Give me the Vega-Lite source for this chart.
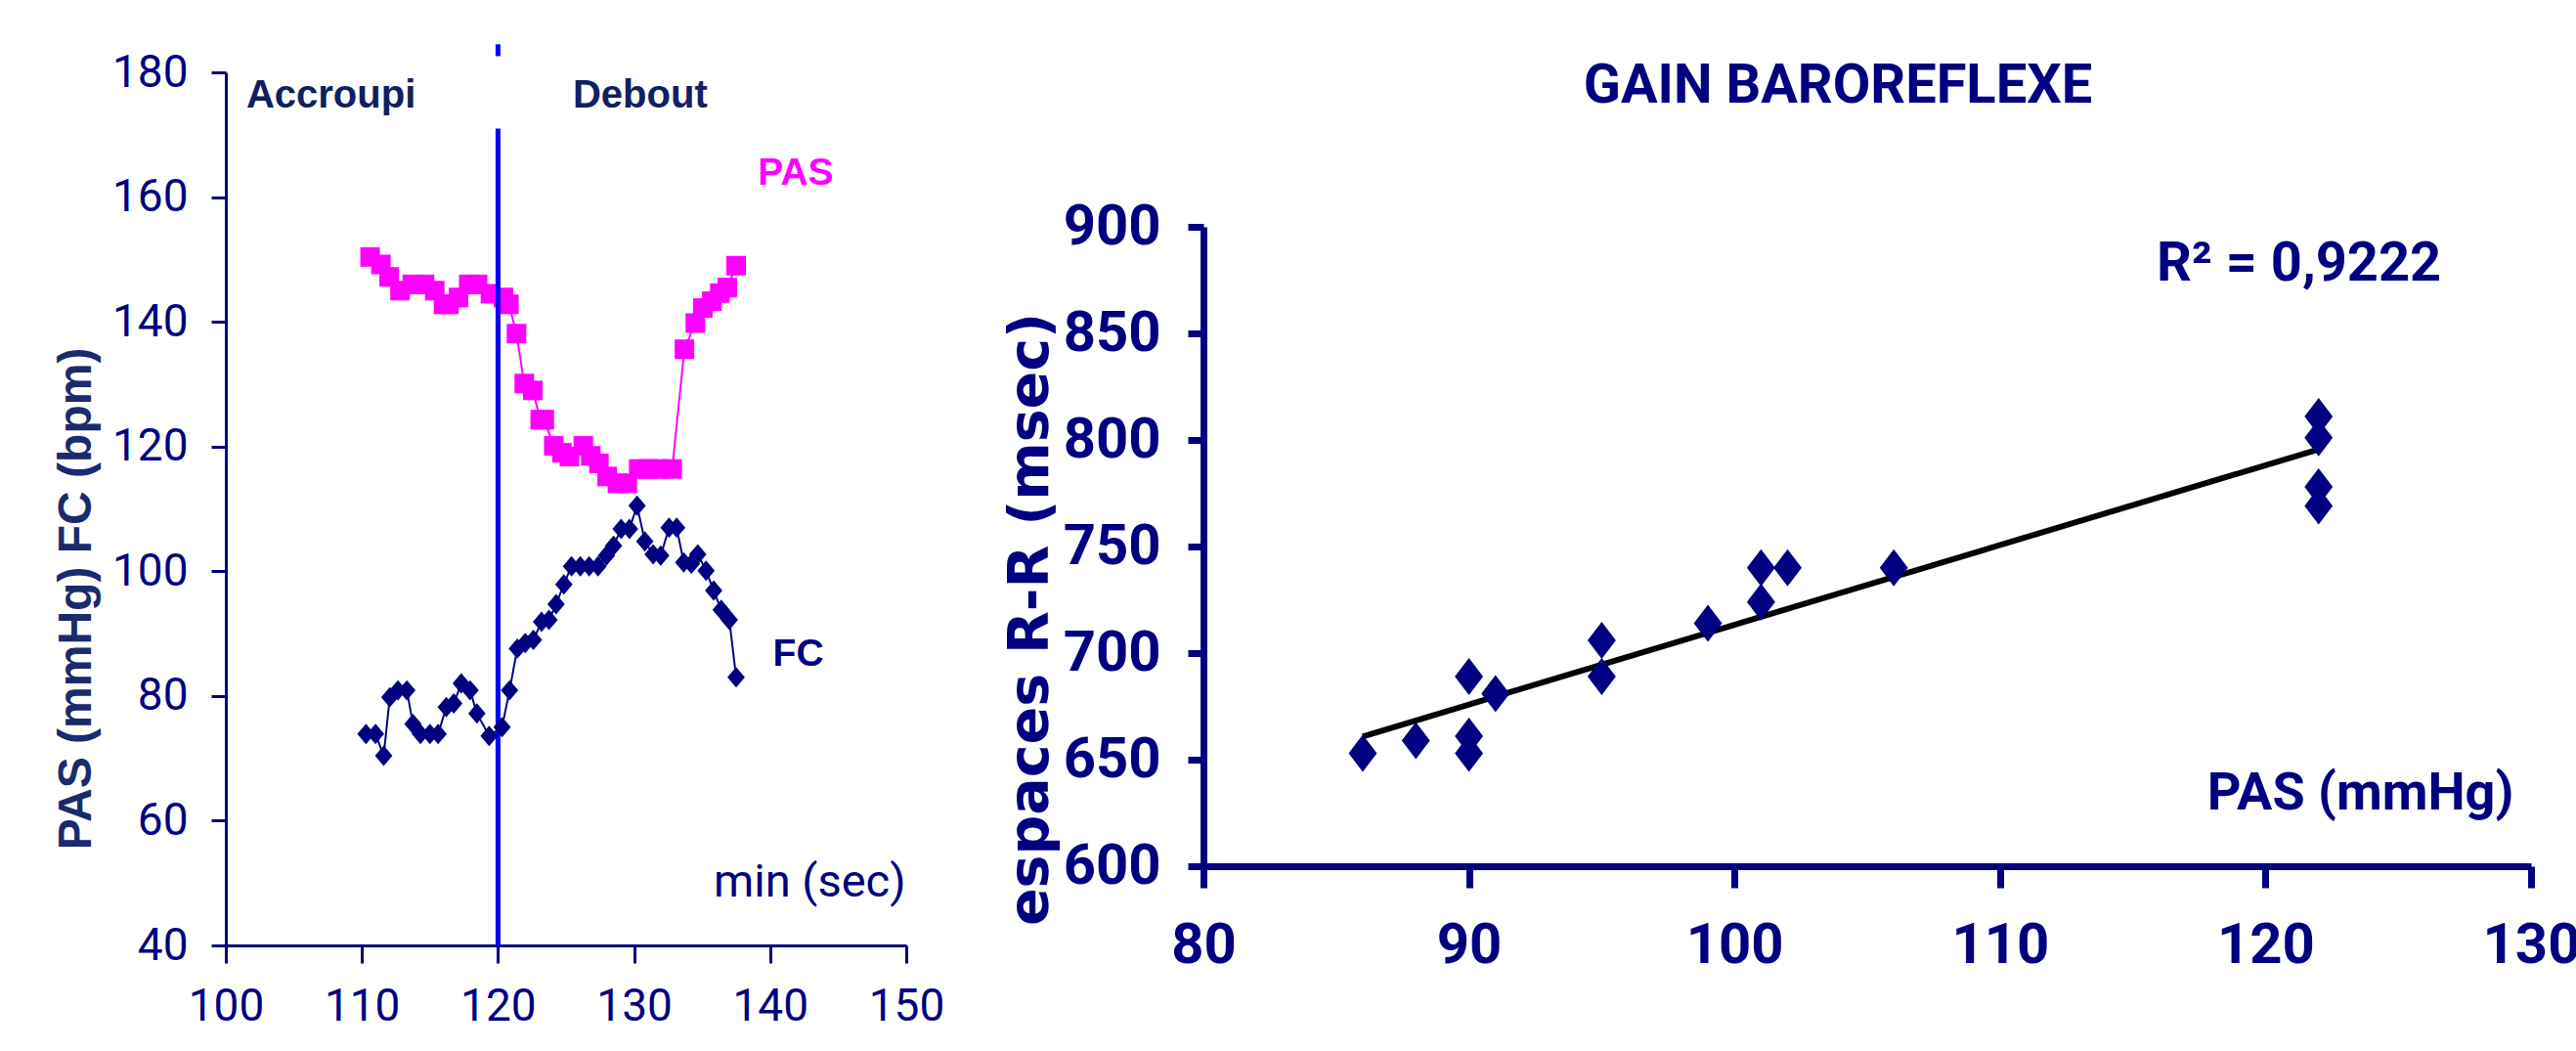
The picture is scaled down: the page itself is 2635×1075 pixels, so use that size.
{
  "$schema": "https://vega.github.io/schema/vega-lite/v6.json",
  "background": "white",
  "padding": {"left": 54, "top": 42, "right": 0, "bottom": 30},
  "spacing": 59,
  "config": {"view": {"stroke": null}, "axis": {"grid": false}},
  "datasets": {
    "hemo": [
      {"serie": "PAS", "temps": 110.6, "valeur": 150.4},
      {"serie": "PAS", "temps": 111.4, "valeur": 149.2},
      {"serie": "PAS", "temps": 112.0, "valeur": 147.2},
      {"serie": "PAS", "temps": 112.8, "valeur": 145.0},
      {"serie": "PAS", "temps": 113.7, "valeur": 146.0},
      {"serie": "PAS", "temps": 114.6, "valeur": 146.0},
      {"serie": "PAS", "temps": 115.35, "valeur": 145.0},
      {"serie": "PAS", "temps": 116.0, "valeur": 142.8},
      {"serie": "PAS", "temps": 116.4, "valeur": 142.8},
      {"serie": "PAS", "temps": 117.1, "valeur": 143.9},
      {"serie": "PAS", "temps": 117.85, "valeur": 146.0},
      {"serie": "PAS", "temps": 118.5, "valeur": 146.0},
      {"serie": "PAS", "temps": 119.45, "valeur": 144.5},
      {"serie": "PAS", "temps": 120.4, "valeur": 143.9},
      {"serie": "PAS", "temps": 120.8, "valeur": 142.8},
      {"serie": "PAS", "temps": 121.36, "valeur": 138.1},
      {"serie": "PAS", "temps": 121.93, "valeur": 130.1},
      {"serie": "PAS", "temps": 122.56, "valeur": 129.0},
      {"serie": "PAS", "temps": 123.1, "valeur": 124.3},
      {"serie": "PAS", "temps": 123.4, "valeur": 124.3},
      {"serie": "PAS", "temps": 124.1, "valeur": 120.1},
      {"serie": "PAS", "temps": 124.7, "valeur": 119.0},
      {"serie": "PAS", "temps": 125.25, "valeur": 118.4},
      {"serie": "PAS", "temps": 126.27, "valeur": 120.1},
      {"serie": "PAS", "temps": 126.82, "valeur": 118.5},
      {"serie": "PAS", "temps": 127.42, "valeur": 117.3},
      {"serie": "PAS", "temps": 128.02, "valeur": 115.2},
      {"serie": "PAS", "temps": 128.78, "valeur": 114.1},
      {"serie": "PAS", "temps": 129.5, "valeur": 114.1},
      {"serie": "PAS", "temps": 130.34, "valeur": 116.4},
      {"serie": "PAS", "temps": 131.06, "valeur": 116.4},
      {"serie": "PAS", "temps": 131.78, "valeur": 116.4},
      {"serie": "PAS", "temps": 132.8, "valeur": 116.4},
      {"serie": "PAS", "temps": 133.7, "valeur": 135.6},
      {"serie": "PAS", "temps": 134.5, "valeur": 139.8},
      {"serie": "PAS", "temps": 135.05, "valeur": 142.2},
      {"serie": "PAS", "temps": 135.7, "valeur": 143.3},
      {"serie": "PAS", "temps": 136.3, "valeur": 144.6},
      {"serie": "PAS", "temps": 136.85, "valeur": 145.5},
      {"serie": "PAS", "temps": 137.5, "valeur": 149.0},
      {"serie": "FC", "temps": 110.3, "valeur": 73.9},
      {"serie": "FC", "temps": 111.0, "valeur": 73.9},
      {"serie": "FC", "temps": 111.6, "valeur": 70.4},
      {"serie": "FC", "temps": 112.05, "valeur": 79.8},
      {"serie": "FC", "temps": 112.65, "valeur": 80.9},
      {"serie": "FC", "temps": 113.3, "valeur": 80.9},
      {"serie": "FC", "temps": 113.75, "valeur": 75.5},
      {"serie": "FC", "temps": 114.3, "valeur": 73.9},
      {"serie": "FC", "temps": 115.0, "valeur": 73.9},
      {"serie": "FC", "temps": 115.6, "valeur": 73.9},
      {"serie": "FC", "temps": 116.2, "valeur": 78.2},
      {"serie": "FC", "temps": 116.75, "valeur": 78.8},
      {"serie": "FC", "temps": 117.3, "valeur": 82.0},
      {"serie": "FC", "temps": 117.95, "valeur": 80.9},
      {"serie": "FC", "temps": 118.45, "valeur": 77.2},
      {"serie": "FC", "temps": 119.35, "valeur": 73.6},
      {"serie": "FC", "temps": 120.3, "valeur": 75.0},
      {"serie": "FC", "temps": 120.85, "valeur": 80.9},
      {"serie": "FC", "temps": 121.42, "valeur": 87.6},
      {"serie": "FC", "temps": 122.0, "valeur": 88.5},
      {"serie": "FC", "temps": 122.6, "valeur": 89.0},
      {"serie": "FC", "temps": 123.2, "valeur": 91.9},
      {"serie": "FC", "temps": 123.75, "valeur": 92.2},
      {"serie": "FC", "temps": 124.27, "valeur": 94.7},
      {"serie": "FC", "temps": 124.84, "valeur": 97.9},
      {"serie": "FC", "temps": 125.4, "valeur": 100.8},
      {"serie": "FC", "temps": 126.05, "valeur": 100.8},
      {"serie": "FC", "temps": 126.7, "valeur": 100.8},
      {"serie": "FC", "temps": 127.35, "valeur": 100.8},
      {"serie": "FC", "temps": 127.97, "valeur": 102.5},
      {"serie": "FC", "temps": 128.49, "valeur": 104.1},
      {"serie": "FC", "temps": 129.05, "valeur": 106.8},
      {"serie": "FC", "temps": 129.66, "valeur": 106.8},
      {"serie": "FC", "temps": 130.22, "valeur": 110.5},
      {"serie": "FC", "temps": 130.79, "valeur": 104.8},
      {"serie": "FC", "temps": 131.4, "valeur": 102.7},
      {"serie": "FC", "temps": 131.96, "valeur": 102.5},
      {"serie": "FC", "temps": 132.57, "valeur": 107.0},
      {"serie": "FC", "temps": 133.13, "valeur": 107.0},
      {"serie": "FC", "temps": 133.65, "valeur": 101.4},
      {"serie": "FC", "temps": 134.21, "valeur": 101.2},
      {"serie": "FC", "temps": 134.68, "valeur": 102.7},
      {"serie": "FC", "temps": 135.29, "valeur": 100.1},
      {"serie": "FC", "temps": 135.85, "valeur": 96.9},
      {"serie": "FC", "temps": 136.4, "valeur": 93.8},
      {"serie": "FC", "temps": 137.0, "valeur": 92.2},
      {"serie": "FC", "temps": 137.5, "valeur": 83.0}
    ],
    "gain": [
      {"pas": 86, "rr": 653},
      {"pas": 88, "rr": 659},
      {"pas": 90, "rr": 689},
      {"pas": 90, "rr": 661},
      {"pas": 90, "rr": 653},
      {"pas": 91, "rr": 681},
      {"pas": 95, "rr": 706},
      {"pas": 95, "rr": 689},
      {"pas": 99, "rr": 714},
      {"pas": 101, "rr": 740},
      {"pas": 101, "rr": 724},
      {"pas": 102, "rr": 740},
      {"pas": 106, "rr": 740},
      {"pas": 122, "rr": 811},
      {"pas": 122, "rr": 801},
      {"pas": 122, "rr": 778},
      {"pas": 122, "rr": 769}
    ]
  },
  "hconcat": [
    {
      "width": 696,
      "height": 893,
      "layer": [
        {
          "data": {"name": "hemo"},
          "transform": [{"filter": "datum.serie === 'PAS'"}],
          "mark": {"type": "line", "color": "#ff00ff", "strokeWidth": 2},
          "encoding": {
            "x": {"field": "temps", "type": "quantitative", "title": null,
              "scale": {"domain": [100, 150], "nice": false, "zero": false},
              "axis": {"values": [100, 110, 120, 130, 140, 150], "title": null, "domainColor": "#000080", "domainWidth": 3, "tickColor": "#000080", "tickWidth": 3, "tickSize": 18, "labelFont": "Roboto", "labelFontSize": 46, "labelColor": "#000080", "labelPadding": 22, "labelFlush": false, "labelOverlap": false, "grid": false}},
            "y": {"field": "valeur", "type": "quantitative", "title": "PAS (mmHg) FC (bpm)",
              "scale": {"domain": [40, 180], "nice": false, "zero": false},
              "axis": {"values": [40, 60, 80, 100, 120, 140, 160, 180], "title": "PAS (mmHg) FC (bpm)", "titleFont": "Liberation Sans", "titleFontWeight": "bold", "titleFontSize": 48, "titleColor": "#1a2a6c", "titleX": -153, "titleY": 538, "titleAngle": 270, "titleAlign": "center", "titleBaseline": "middle", "domainColor": "#000080", "domainWidth": 3, "tickColor": "#000080", "tickWidth": 3, "tickSize": 15, "labelFont": "Roboto", "labelFontSize": 46, "labelColor": "#000080", "labelPadding": 24, "labelFlush": false, "labelOverlap": false, "grid": false}}
          }
        },
        {
          "data": {"name": "hemo"},
          "transform": [{"filter": "datum.serie === 'PAS'"}],
          "mark": {"type": "point", "shape": "square", "filled": true, "size": 400, "color": "#ff00ff", "opacity": 1},
          "encoding": {
            "x": {"field": "temps", "type": "quantitative", "title": null, "scale": {"domain": [100, 150], "nice": false, "zero": false}},
            "y": {"field": "valeur", "type": "quantitative", "title": "PAS (mmHg) FC (bpm)", "scale": {"domain": [40, 180], "nice": false, "zero": false}}
          }
        },
        {
          "data": {"values": [{}]},
          "mark": {"type": "rule", "color": "#0000ff", "strokeWidth": 5},
          "encoding": {"x": {"datum": 120}, "y": {"datum": 40}, "y2": {"datum": 171}}
        },
        {
          "data": {"values": [{}]},
          "mark": {"type": "rule", "color": "#0000ff", "strokeWidth": 5, "clip": false},
          "encoding": {"x": {"datum": 120}, "y": {"datum": 182.6}, "y2": {"datum": 184.5}}
        },
        {
          "data": {"name": "hemo"},
          "transform": [{"filter": "datum.serie === 'FC'"}],
          "mark": {"type": "line", "color": "#000080", "strokeWidth": 2},
          "encoding": {
            "x": {"field": "temps", "type": "quantitative", "title": null, "scale": {"domain": [100, 150], "nice": false, "zero": false}},
            "y": {"field": "valeur", "type": "quantitative", "title": "PAS (mmHg) FC (bpm)", "scale": {"domain": [40, 180], "nice": false, "zero": false}}
          }
        },
        {
          "data": {"name": "hemo"},
          "transform": [{"filter": "datum.serie === 'FC'"}],
          "mark": {"type": "point", "shape": "M0,-1L0.85,0L0,1L-0.85,0Z", "filled": true, "size": 440, "color": "#000080", "opacity": 1},
          "encoding": {
            "x": {"field": "temps", "type": "quantitative", "title": null, "scale": {"domain": [100, 150], "nice": false, "zero": false}},
            "y": {"field": "valeur", "type": "quantitative", "title": "PAS (mmHg) FC (bpm)", "scale": {"domain": [40, 180], "nice": false, "zero": false}}
          }
        },
        {
          "data": {"values": [{}]},
          "mark": {"type": "text", "text": "Accroupi", "align": "left", "baseline": "alphabetic", "font": "Liberation Sans", "fontWeight": "bold", "fontSize": 40, "color": "#102060"},
          "encoding": {"x": {"datum": 101.5}, "y": {"datum": 174.3}}
        },
        {
          "data": {"values": [{}]},
          "mark": {"type": "text", "text": "Debout", "align": "left", "baseline": "alphabetic", "font": "Liberation Sans", "fontWeight": "bold", "fontSize": 40, "color": "#102060"},
          "encoding": {"x": {"datum": 125.5}, "y": {"datum": 174.3}}
        },
        {
          "data": {"values": [{}]},
          "mark": {"type": "text", "text": "PAS", "align": "left", "baseline": "alphabetic", "font": "Liberation Sans", "fontWeight": "bold", "fontSize": 39, "color": "#ff00ff"},
          "encoding": {"x": {"datum": 139.1}, "y": {"datum": 161.9}}
        },
        {
          "data": {"values": [{}]},
          "mark": {"type": "text", "text": "FC", "align": "left", "baseline": "alphabetic", "font": "Liberation Sans", "fontWeight": "bold", "fontSize": 39, "color": "#000080"},
          "encoding": {"x": {"datum": 140.2}, "y": {"datum": 84.9}}
        },
        {
          "data": {"values": [{}]},
          "mark": {"type": "text", "text": "min (sec)", "align": "left", "baseline": "alphabetic", "font": "Roboto", "fontSize": 47, "color": "#000080"},
          "encoding": {"x": {"datum": 135.85}, "y": {"datum": 47.8}}
        }
      ]
    },
    {
      "spacing": 130,
      "bounds": "flush",
      "vconcat": [
        {
          "width": 1358,
          "height": 28,
          "data": {"values": [{}]},
          "mark": {"type": "text", "text": "GAIN BAROREFLEXE", "font": "Roboto", "fontWeight": "bold", "fontSize": 56, "color": "#000080", "baseline": "middle", "align": "center", "dx": -30},
          "encoding": {}
        },
        {
          "width": 1358,
          "height": 654,
          "layer": [
            {
              "data": {"name": "gain"},
              "transform": [{"regression": "rr", "on": "pas"}],
              "mark": {"type": "line", "color": "black", "strokeWidth": 6},
              "encoding": {
                "x": {"field": "pas", "type": "quantitative", "title": null,
                  "scale": {"domain": [80, 130], "nice": false, "zero": false},
                  "axis": {"values": [80, 90, 100, 110, 120, 130], "title": null, "domainColor": "#000080", "domainWidth": 7, "tickColor": "#000080", "tickWidth": 7, "tickSize": 22, "labelFont": "Roboto", "labelFontWeight": "bold", "labelFontSize": 58, "labelColor": "#000080", "labelPadding": 30, "labelFlush": false, "labelOverlap": false, "grid": false}},
                "y": {"field": "rr", "type": "quantitative", "title": "espaces R-R (msec)",
                  "scale": {"domain": [600, 900], "nice": false, "zero": false},
                  "axis": {"values": [600, 650, 700, 750, 800, 850, 900], "title": "espaces R-R (msec)", "titleFont": "DejaVu Sans", "titleFontWeight": "bold", "titleFontSize": 57, "titleColor": "#000080", "titleX": -177, "titleY": 401, "titleAngle": 270, "titleAlign": "center", "titleBaseline": "middle", "domainColor": "#000080", "domainWidth": 7, "tickColor": "#000080", "tickWidth": 7, "tickSize": 16, "labelFont": "Roboto", "labelFontWeight": "bold", "labelFontSize": 58, "labelColor": "#000080", "labelPadding": 28, "labelFlush": false, "labelOverlap": false, "grid": false}}
              }
            },
            {
              "data": {"name": "gain"},
              "mark": {"type": "point", "shape": "M0,-1L0.76,0L0,1L-0.76,0Z", "filled": true, "size": 1444, "color": "#000080", "opacity": 1},
              "encoding": {
                "x": {"field": "pas", "type": "quantitative", "title": null, "scale": {"domain": [80, 130], "nice": false, "zero": false}},
                "y": {"field": "rr", "type": "quantitative", "title": "espaces R-R (msec)", "scale": {"domain": [600, 900], "nice": false, "zero": false}}
              }
            },
            {
              "data": {"values": [{}]},
              "mark": {"type": "text", "text": "R² = 0,9222", "align": "left", "baseline": "alphabetic", "font": "Roboto", "fontWeight": "bold", "fontSize": 56, "color": "#000080"},
              "encoding": {"x": {"datum": 115.9}, "y": {"datum": 874.8}}
            },
            {
              "data": {"values": [{}]},
              "mark": {"type": "text", "text": "PAS (mmHg)", "align": "left", "baseline": "alphabetic", "font": "Roboto", "fontWeight": "bold", "fontSize": 54, "color": "#000080"},
              "encoding": {"x": {"datum": 117.8}, "y": {"datum": 626.6}}
            }
          ]
        }
      ]
    }
  ]
}
